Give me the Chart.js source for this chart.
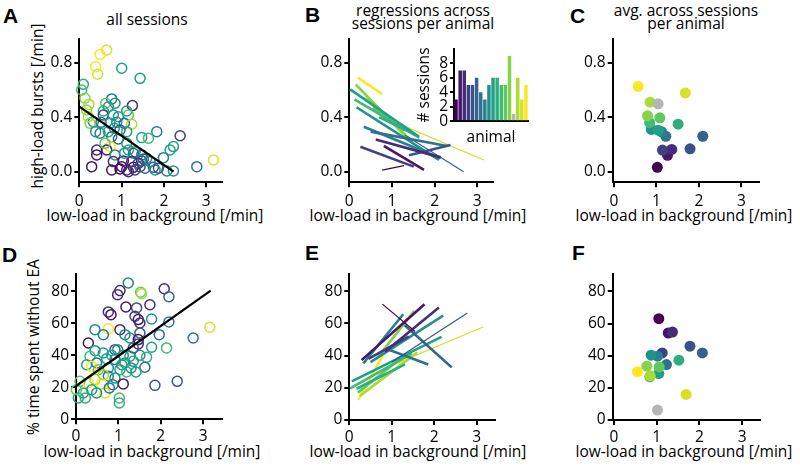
<!DOCTYPE html>
<html><head><meta charset="utf-8">
<script src="https://cdn.jsdelivr.net/npm/chart.js@4.4.1/dist/chart.umd.min.js"></script>
<style>
html,body{margin:0;padding:0;background:#fff;width:800px;height:469px;overflow:hidden;}
canvas{position:absolute;left:0;top:0;}
.lbl{position:absolute;font-family:"Liberation Sans",Arial,sans-serif;font-weight:bold;font-size:21px;line-height:21px;color:#000;}
.ttl{position:absolute;font-family:"Open Sans",sans-serif;font-size:15.5px;line-height:13px;color:#000;text-align:center;white-space:nowrap;}
.ax{position:absolute;font-family:"Open Sans",sans-serif;font-size:15.5px;line-height:18.6px;height:18.6px;color:#000;text-align:center;white-space:nowrap;width:260px;}
.axy{position:absolute;font-family:"Open Sans",sans-serif;font-size:15.5px;line-height:18.6px;height:18.6px;color:#000;text-align:center;white-space:nowrap;width:240px;transform:translate(-50%,-50%) rotate(-90deg);}
</style>
</head><body>
<div class="lbl" style="left:3px;top:5px">A</div>
<div class="lbl" style="left:305px;top:4px">B</div>
<div class="lbl" style="left:570px;top:5px">C</div>
<div class="lbl" style="left:2px;top:244px">D</div>
<div class="lbl" style="left:305px;top:242px">E</div>
<div class="lbl" style="left:572px;top:242px">F</div>
<div class="ttl" style="left:87px;top:6px;line-height:15px;width:120px;top:12px">all sessions</div>
<div class="ttl" style="left:343px;top:4px;width:160px">regressions across<br>sessions per animal</div>
<div class="ttl" style="left:606px;top:4px;width:160px">avg. across sessions<br>per animal</div>
<div class="ax" style="left:25px;top:205.5px">low-load in background [/min]</div>
<div class="ax" style="left:288px;top:205.5px">low-load in background [/min]</div>
<div class="ax" style="left:554px;top:205.5px">low-load in background [/min]</div>
<div class="ax" style="left:22px;top:441.5px">low-load in background [/min]</div>
<div class="ax" style="left:288px;top:441.5px">low-load in background [/min]</div>
<div class="ax" style="left:554px;top:441.5px">low-load in background [/min]</div>
<div class="axy" style="left:36.7px;top:106px">high-load bursts [/min]</div>
<div class="axy" style="left:32.5px;top:346.5px">% time spent without EA</div>
<canvas id="cA" width="800" height="469"></canvas>
<canvas id="cB" width="800" height="469"></canvas>
<canvas id="cBi" width="800" height="469"></canvas>
<canvas id="cC" width="800" height="469"></canvas>
<canvas id="cD" width="800" height="469"></canvas>
<canvas id="cE" width="800" height="469"></canvas>
<canvas id="cF" width="800" height="469"></canvas>
<script>
// ---------------- DATA ----------------
const viridis = ['#440154','#461768','#472c7a','#413f84','#3b518a','#33628d','#2d728e','#27808e','#23908c','#20a088','#2dae7f','#40bb73','#60c860','#84d34a','#acdc31','#d5e228','#fde725'];
const GRAY = '#b5b5b5';

// Panel A: sessions (low-load rate, high-load burst rate, animal colour index)
const aX = [0.649,0.491,0.388,0.435,1.004,1.438,0.096,0.056,0.135,0.230,0.174,0.767,0.625,0.688,0.569,0.846,1.257,1.122,1.162,0.569,0.806,0.925,0.332,0.254,0.514,0.727,0.886,1.067,1.241,0.388,0.491,0.688,0.830,0.964,1.122,1.833,1.478,1.636,2.386,0.767,0.925,1.122,0.727,0.412,0.649,1.162,1.320,2.149,2.228,0.412,0.846,1.280,1.478,1.596,1.991,1.478,1.517,0.806,1.043,1.241,1.399,0.293,0.767,0.964,1.122,1.280,1.438,1.557,1.754,1.794,2.070,2.228,2.781,3.176,1.675,1.067,0.609,0.214,1.162,1.004,1.320,1.873];
const aY = [0.893,0.861,0.771,0.715,0.759,0.685,0.641,0.600,0.539,0.494,0.453,0.534,0.502,0.477,0.445,0.502,0.485,0.445,0.416,0.416,0.416,0.404,0.367,0.355,0.362,0.355,0.362,0.355,0.348,0.294,0.282,0.294,0.318,0.306,0.294,0.294,0.250,0.245,0.264,0.257,0.240,0.208,0.184,0.159,0.159,0.159,0.147,0.159,0.184,0.123,0.123,0.135,0.123,0.098,0.103,0.079,0.093,0.074,0.079,0.074,0.061,0.037,0.012,0.020,0.012,0.032,0.037,0.025,0.032,0.012,0.005,0.005,0.037,0.086,0.074,0.135,0.208,0.404,0.000,0.037,0.012,0.025];
const aCol = [15,16,16,15,9,9,10,11,13,14,13,6,12,9,10,8,2,9,12,3,8,9,8,13,7,9,8,5,14,8,7,9,8,5,9,7,9,11,3,7,5,8,16,2,1,9,8,9,9,1,8,5,6,8,7,4,5,2,1,2,3,1,1,0,2,1,4,5,4,8,7,8,6,15,8,8,12,14,2,1,3,4];
const aFit = [[0, 0.477], [2.23, 0.0]];

// Panel D: sessions (low-load rate, % time without EA, animal colour index)
const dX = [1.234,1.038,0.983,1.525,1.550,2.083,2.193,0.763,0.826,1.179,1.431,1.745,1.392,1.470,1.509,1.785,2.193,3.160,2.767,0.448,0.763,0.645,1.038,1.156,1.274,1.509,1.965,1.470,0.291,1.785,2.138,0.448,0.645,0.920,0.983,0.841,1.116,1.274,1.509,1.667,0.330,0.487,0.723,0.920,1.156,1.352,1.627,0.252,0.370,0.527,0.763,1.038,1.195,1.415,0.763,0.920,0.094,0.291,0.448,0.605,0.684,0.786,1.116,1.863,2.390,0.173,0.055,0.220,0.487,1.022,1.022,0.370,0.010,0.645,1.080,1.300,1.470,1.352,0.870];
const dY = [85.2,80.4,77.9,79.4,78.5,81.6,76.6,67.1,65.4,70.2,69.6,71.6,64.4,62.3,60.2,62.7,60.8,57.5,50.8,56.0,56.6,52.9,56.0,52.9,50.8,53.9,52.9,49.8,47.7,45.0,44.6,42.9,41.4,43.5,43.5,40.0,40.0,39.4,40.0,38.7,39.4,35.2,37.9,37.3,35.2,36.2,32.5,34.1,33.1,31.0,32.1,31.0,29.6,29.6,26.9,25.8,23.7,22.7,24.8,22.1,16.4,19.6,22.1,21.2,23.7,16.4,13.3,13.3,16.4,13.3,10.2,18.5,18.5,27.9,34.1,32.1,47.1,44.6,21.6];
const dCol = [7,2,2,12,14,2,5,2,1,1,4,2,3,1,2,8,7,15,6,8,16,7,2,7,8,5,6,1,1,9,11,8,9,5,8,9,8,9,8,10,11,5,9,7,8,9,6,9,16,12,8,9,11,9,6,8,12,16,14,16,15,6,1,4,4,9,9,10,8,11,10,9,12,14,9,8,2,5,7];
const dFit = [[0, 20.8], [3.18, 80.4]];

// Panel B: per-animal regression lines (bursts) [x1, y1, x2, y2], index = animal colour
const bLines = [[0.77,0.012,1.28,0.044],[0.81,0.19,1.75,0.013],[0.62,0.237,2.14,0.105],[0.26,0.183,1.51,0.037],[1.40,0.12,2.37,0.196],[1.30,0.27,2.68,0.0],[0.50,0.294,2.29,0.189],[0.34,0.33,2.14,0.098],[0.17,0.473,2.10,0.086],[0.02,0.604,1.63,0.257],[0.70,0.40,1.55,0.27],[0.12,0.53,1.64,0.25],[0.55,0.47,1.30,0.30],[0.15,0.64,1.52,0.20],[0.40,0.55,1.45,0.22],[1.10,0.36,3.15,0.086],[0.20,0.69,0.77,0.57]];
const bThin = [0,5,15];

// Panel B inset: sessions per animal
const animals = ['1','2','3','4','5','6','7','8','9','10','11','12','13','14','15','16','17','18'];
const nSessions = [3,7,7,5,5,6,4,3,5,6,6,5,5,9,1,6,3,5];
const barCol = [0,1,2,3,4,5,6,7,8,9,10,11,12,13,-1,14,15,16];

// Panel C: averages per animal (bursts)
const cX = [1.02,1.26,1.36,1.14,1.79,2.09,1.22,1.12,0.88,1.04,1.51,0.84,1.08,0.79,0.85,1.04,1.68,0.57];
const cY = [0.032,0.12,0.163,0.159,0.168,0.26,0.26,0.293,0.31,0.305,0.349,0.36,0.395,0.41,0.51,0.498,0.578,0.627];
const cCol = [0,1,2,3,4,5,6,7,8,9,10,11,12,13,14,-1,15,16];

// Panel E: per-animal regression lines (% time) [x1, y1, x2, y2]
const eLines = [[0.78,72,1.55,55],[0.29,37.2,1.77,71.9],[0.84,42.4,2.11,69.9],[0.45,38,1.40,52],[1.0,36,2.78,66.5],[1.30,59,2.41,32.7],[0.90,44,1.86,34.5],[0.33,35.2,1.27,65.7],[0.50,36,2.21,64.8],[0.06,24,2.17,51.6],[0.17,19.4,1.31,34.5],[0.02,19.6,1.47,41.2],[0.20,17,1.30,40],[0.64,38,1.53,67.8],[0.25,15,1.60,42],[0.92,33,3.16,57.9],[0.21,12.5,0.88,44.5]];
const eThin = [0,4,15];

// Panel F: averages per animal (% time)
const fX = [1.05,1.27,1.37,1.13,1.78,2.07,1.23,1.02,0.87,1.05,1.52,0.84,1.06,0.77,0.85,1.02,1.69,0.55];
const fY = [63.0,54.1,54.7,41.7,45.9,41.7,34.5,39.7,40.3,28.9,37.2,26.9,33.0,33.5,27.5,6.2,15.9,30.0];
const fCol = cCol;

const xTicks = [0,1,2,3];
const yTicksTop = [0,0.4,0.8];
const yTicksBot = [0,20,40,60,80];
const inTicks = [0,2,4,6,8];

// ---------------- HELPERS ----------------
const FONT = {family:'"Open Sans", sans-serif', size:15.5};
const colOf = i => i < 0 ? GRAY : viridis[i];

function pad(area, wy, hx){
  return {left: area.L - wy, top: area.T, right: 800 - area.R, bottom: 469 - area.B - hx};
}
function linAxis(min, max, ticks, fmt, wy, hx, title, tpad){
  return {
    type:'linear', min:min, max:max,
    afterBuildTicks: a => { a.ticks = ticks.map(v => ({value:v})); },
    afterFit: s => { if (wy !== null) s.width = wy; if (hx !== null) s.height = hx; },
    ticks:{callback: v => fmt(v), font:FONT, color:'#000', padding:tpad, maxRotation:0, autoSkip:false},
    grid:{display:true, drawOnChartArea:false, drawTicks:true, tickLength:5, color:'#000', lineWidth:2},
    border:{display:true, color:'#000', width:2},
    title:{display: !!title, text: title || '', font:FONT, color:'#000', padding:{top:0,bottom:0}}
  };
}
function baseOpts(area, wy, hx, xs, ys){
  return {
    animation:false, responsive:false, devicePixelRatio:1,
    layout:{padding: pad(area, wy, hx)},
    plugins:{legend:{display:false}, tooltip:{enabled:false}},
    scales:{x:xs, y:ys}
  };
}
const f1 = v => v.toFixed(1);
const f0 = v => String(v);

function scatterSet(xs, ys, cols, filled, r){
  return {
    data: xs.map((x,i) => ({x:x, y:ys[i]})),
    showLine:false, clip:false,
    pointRadius:r, pointHoverRadius:r,
    pointBackgroundColor: filled ? cols.map(colOf) : 'rgba(0,0,0,0)',
    pointBorderColor: cols.map(colOf),
    pointBorderWidth: filled ? 0 : 1.5
  };
}
function fitSet(pts){
  return {data: pts.map(p => ({x:p[0], y:p[1]})), showLine:true, borderColor:'#000', borderWidth:2.2, pointRadius:0, clip:false};
}
function lineSets(lines, thin){
  return lines.map((l,i) => ({
    data:[{x:l[0],y:l[1]},{x:l[2],y:l[3]}], showLine:true, clip:false,
    borderColor: viridis[i], borderWidth: thin.includes(i) ? 1.2 : 2.6, pointRadius:0
  }));
}

// ---------------- AREAS ----------------
const AR = {
  A:{L:79.3,T:39,R:221.7,B:182.3},
  B:{L:349.3,T:39,R:493.3,B:182.3},
  C:{L:612.7,T:39,R:759.3,B:182.3},
  D:{L:76,T:274.3,R:221.7,B:419.3},
  E:{L:349.3,T:273.5,R:495,B:420},
  F:{L:612.7,T:274.3,R:760,B:420},
  Bi:{L:454,T:48.7,R:528,B:121.3}
};

// A
new Chart(document.getElementById('cA'), {
  type:'scatter',
  data:{datasets:[fitSet(aFit), scatterSet(aX, aY, aCol, false, 5)]},
  options: baseOpts(AR.A, 50.6, 43.5,
    linAxis(0, 3.37, xTicks, f0, null, 43.5, '', 5),
    linAxis(-0.078, 0.974, yTicksTop, f1, 50.6, null, '', 2))
});
// B
new Chart(document.getElementById('cB'), {
  type:'scatter',
  data:{datasets: lineSets(bLines, bThin)},
  options: baseOpts(AR.B, 40, 43.5,
    linAxis(0, 3.375, xTicks, f0, null, 43.5, '', 5),
    linAxis(-0.078, 0.974, yTicksTop, f1, 40, null, '', 2))
});
// B inset
(function(){
  const xs = {type:'category', afterFit: s => { s.height = 26; },
    ticks:{display:false}, grid:{display:false, drawTicks:false},
    border:{display:true, color:'#000', width:2},
    title:{display:true, text:'animal', font:FONT, color:'#000', padding:{top:0,bottom:0}}};
  const ys = linAxis(0, 10, inTicks, f0, 38.3, null, '# sessions', 2);
  ys.grid.tickLength = 4;
  new Chart(document.getElementById('cBi'), {
    type:'bar',
    data:{labels:animals, datasets:[{data:nSessions, backgroundColor: barCol.map(colOf), borderWidth:0, barPercentage:0.85, categoryPercentage:1}]},
    options: baseOpts(AR.Bi, 38.3, 26, xs, ys)
  });
})();
// C
new Chart(document.getElementById('cC'), {
  type:'scatter',
  data:{datasets:[scatterSet(cX, cY, cCol, true, 5.5)]},
  options: baseOpts(AR.C, 40, 43.5,
    linAxis(-0.03, 3.42, xTicks, f0, null, 43.5, '', 5),
    linAxis(-0.078, 0.974, yTicksTop, f1, 40, null, '', 2))
});
// D
new Chart(document.getElementById('cD'), {
  type:'scatter',
  data:{datasets:[fitSet(dFit), scatterSet(dX, dY, dCol, false, 5)]},
  options: baseOpts(AR.D, 50.3, 41.7,
    linAxis(0, 3.44, xTicks, f0, null, 41.7, '', 3),
    linAxis(0, 90.6, yTicksBot, f0, 50.3, null, '', 2))
});
// E
new Chart(document.getElementById('cE'), {
  type:'scatter',
  data:{datasets: lineSets(eLines, eThin)},
  options: baseOpts(AR.E, 40, 41.7,
    linAxis(0, 3.43, xTicks, f0, null, 41.7, '', 3),
    linAxis(0, 91, yTicksBot, f0, 40, null, '', 2))
});
// F
new Chart(document.getElementById('cF'), {
  type:'scatter',
  data:{datasets:[scatterSet(fX, fY, fCol, true, 5.5)]},
  options: baseOpts(AR.F, 40, 41.7,
    linAxis(-0.03, 3.42, xTicks, f0, null, 41.7, '', 3),
    linAxis(0, 90.6, yTicksBot, f0, 40, null, '', 2))
});
</script>
</body></html>
